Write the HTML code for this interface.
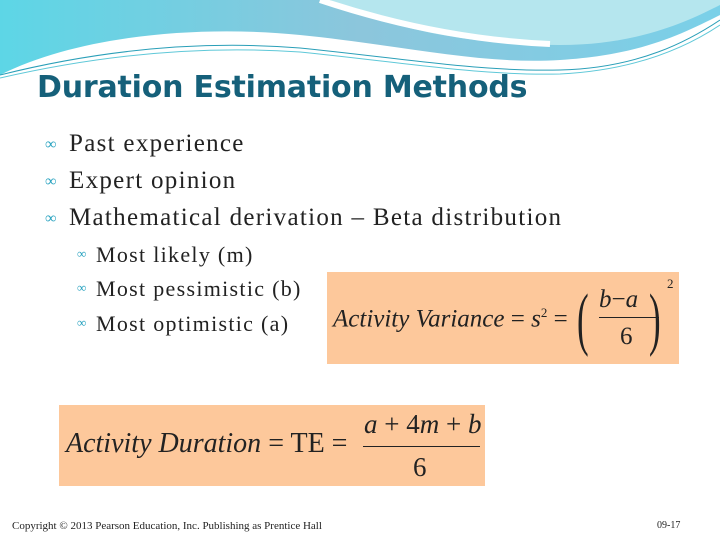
<!DOCTYPE html>
<html><head><meta charset="utf-8"><style>
body{margin:0;width:720px;height:540px;overflow:hidden;background:#fff;position:relative;font-family:"Liberation Serif",serif}
.t{position:absolute;white-space:nowrap}
.l1{font-size:25px;color:#222;letter-spacing:1.3px}
.l2{font-size:22px;color:#222;letter-spacing:1.3px}
.b{position:absolute;color:#2aa3c0;font-size:16px}
.f{position:absolute;font-family:"Liberation Serif",serif;font-style:italic;color:#222;font-size:25px}
</style></head><body>
<svg width="720" height="80" style="position:absolute;left:0;top:0">
<defs><linearGradient id="g" x1="0" x2="1"><stop offset="0" stop-color="#5dd6e6"/><stop offset="0.5" stop-color="#8cc6dc"/><stop offset="1" stop-color="#7ad0e8"/></linearGradient></defs>
<path d="M0 0H720V15C680 35 640 55 560 60C480 65 400 45 300 35C200 25 80 35 0 75Z" fill="url(#g)"/>
<path d="M330 0C380 25 460 45 560 45C640 45 690 20 720 5V0Z" fill="#b5e6ee"/>
<path d="M320 0C380 20 460 40 550 44" stroke="#fff" stroke-width="6" fill="none"/>
<path d="M0 75C100 50 200 40 300 48C400 58 480 72 560 70C640 68 690 40 720 20" stroke="#2a9fb8" stroke-width="1" fill="none"/>
<path d="M0 78C100 55 200 45 300 52C400 62 480 76 560 74C640 70 690 45 720 25" stroke="#5fc8d8" stroke-width="1" fill="none"/>
</svg>
<div class="t" style="left:37px;top:70px;font-family:'DejaVu Sans',sans-serif;font-weight:bold;font-size:30px;color:#15607a;letter-spacing:-0.2px">Duration Estimation Methods</div>
<div class="b" style="left:45px;top:136px">∞</div><div class="t l1" style="left:69px;top:130px">Past experience</div>
<div class="b" style="left:45px;top:173px">∞</div><div class="t l1" style="left:69px;top:167px">Expert opinion</div>
<div class="b" style="left:45px;top:210px">∞</div><div class="t l1" style="left:69px;top:204px">Mathematical derivation – Beta distribution</div>
<div class="b" style="left:77px;top:246px;font-size:13px">∞</div><div class="t l2" style="left:96px;top:242px">Most likely (m)</div>
<div class="b" style="left:77px;top:280px;font-size:13px">∞</div><div class="t l2" style="left:96px;top:276px">Most pessimistic (b)</div>
<div class="b" style="left:77px;top:315px;font-size:13px">∞</div><div class="t l2" style="left:96px;top:311px">Most optimistic (a)</div>
<div style="position:absolute;left:327px;top:272px;width:352px;height:92px;background:#fdc89b">
<div class="f" style="left:6px;top:33px">Activity Variance <span style="font-style:normal">=</span> s<sup style="font-size:13px;font-style:normal">2</sup> <span style="font-style:normal">=</span></div>
<div class="f" style="left:250px;top:8px;font-size:70px;font-style:normal;transform:scaleX(0.5);transform-origin:left;font-weight:100">(</div>
<div class="f" style="left:272px;top:14px">b<span style="font-style:normal">−</span>a</div>
<div style="position:absolute;left:272px;top:45px;width:60px;height:1px;background:#222"></div>
<div class="f" style="left:293px;top:51px;font-style:normal">6</div>
<div class="f" style="left:322px;top:8px;font-size:70px;font-style:normal;transform:scaleX(0.5);transform-origin:left">)</div>
<div class="f" style="left:340px;top:4px;font-size:13px;font-style:normal">2</div>
</div>
<div style="position:absolute;left:59px;top:405px;width:426px;height:81px;background:#fdc89b">
<div class="f" style="left:7px;top:23px;font-size:28px">Activity Duration <span style="font-style:normal">= TE =</span></div>
<div class="f" style="left:305px;top:4px;font-size:27px">a <span style="font-style:normal">+ 4</span>m <span style="font-style:normal">+</span> b</div>
<div style="position:absolute;left:304px;top:41px;width:117px;height:1px;background:#222"></div>
<div class="f" style="left:354px;top:47px;font-size:27px;font-style:normal">6</div>
</div>
<div class="t" style="left:12px;top:520px;font-size:11px;color:#222">Copyright © 2013 Pearson Education, Inc. Publishing as Prentice Hall</div>
<div class="t" style="left:657px;top:520px;font-size:10px;color:#222">09-17</div>
</body></html>
